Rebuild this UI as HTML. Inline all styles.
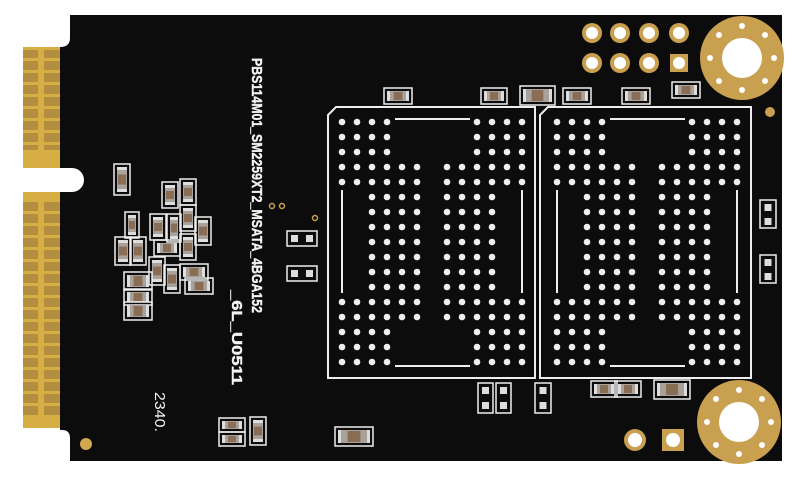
<!DOCTYPE html>
<html><head><meta charset="utf-8"><style>
html,body{margin:0;padding:0;background:#fff;}
svg{display:block}
</style></head><body>
<svg width="800" height="480" viewBox="0 0 800 480" xmlns="http://www.w3.org/2000/svg">
<defs>
<pattern id="fing" x="0" y="47" width="40" height="12" patternUnits="userSpaceOnUse">
<rect width="40" height="12" fill="#d6ae44"/>
<rect x="4" y="2" width="34" height="9" fill="#b48e40"/>
</pattern>
<pattern id="fing2" x="0" y="200" width="40" height="12" patternUnits="userSpaceOnUse">
<rect width="40" height="12" fill="#d6ae44"/>
<rect x="4" y="2" width="34" height="9" fill="#b48e40"/>
</pattern>
</defs>
<path d="M70,15 H782 V461 H70 V438 Q70,430 62,430 H60 V192 H72 A12,12 0 0 0 72,168 H60 V47 Q70,47 70,38 Z" fill="#0c0c0d"/>
<rect x="23" y="47" width="37" height="121" fill="#d6ae44"/>
<rect x="23" y="50" width="37" height="100" fill="url(#fing)"/>
<rect x="23" y="192" width="37" height="236" fill="#d6ae44"/>
<rect x="23" y="200" width="37" height="216" fill="url(#fing2)"/>
<circle cx="86" cy="444" r="6" fill="#d0a850"/>
<circle cx="770" cy="112" r="5" fill="#c9a050"/>

<g fill="#c9a050">
<circle cx="592" cy="33" r="10"/><circle cx="620" cy="33" r="10"/><circle cx="649" cy="33" r="10"/><circle cx="679" cy="33" r="10"/>
<circle cx="592" cy="63" r="10"/><circle cx="620" cy="63" r="10"/><circle cx="649" cy="63" r="10"/>
<rect x="670" y="54" width="18" height="18"/>
<circle cx="635" cy="440" r="11"/><rect x="662" y="429" width="22" height="22"/>
</g>
<g fill="#fff">
<circle cx="592" cy="33" r="6"/><circle cx="620" cy="33" r="6"/><circle cx="649" cy="33" r="6"/><circle cx="679" cy="33" r="6"/>
<circle cx="592" cy="63" r="6"/><circle cx="620" cy="63" r="6"/><circle cx="649" cy="63" r="6"/><circle cx="679" cy="63" r="6"/>
<circle cx="635" cy="440" r="7"/><circle cx="673" cy="440" r="7"/>
</g>

<g>
<circle cx="742" cy="58" r="42" fill="#c9a050"/><circle cx="742" cy="58" r="20" fill="#fff"/>
<circle cx="739" cy="422" r="42" fill="#c9a050"/><circle cx="739" cy="422" r="20" fill="#fff"/>
<g fill="#fff">
<circle cx="742" cy="26" r="3"/><circle cx="742" cy="90" r="3"/><circle cx="710" cy="58" r="3"/><circle cx="774" cy="58" r="3"/>
<circle cx="719" cy="35" r="3"/><circle cx="765" cy="35" r="3"/><circle cx="719" cy="81" r="3"/><circle cx="765" cy="81" r="3"/>
<circle cx="739" cy="390" r="3"/><circle cx="739" cy="454" r="3"/><circle cx="707" cy="422" r="3"/><circle cx="771" cy="422" r="3"/>
<circle cx="716" cy="399" r="3"/><circle cx="762" cy="399" r="3"/><circle cx="716" cy="445" r="3"/><circle cx="762" cy="445" r="3"/>
</g>
</g>

<g fill="none" stroke="#eee" stroke-width="2">
<path d="M336,107 H535 V378 H328 V115 Z"/>
<path d="M548,107 H751 V378 H540 V115 Z"/>
<path d="M395,119 H470 M395,366 H470 M342,190 V293 M522,190 V293"/>
<path d="M610,119 H685 M610,366 H685 M557,190 V293 M737,190 V293"/>
</g>
<g id="bga" fill="#eee"></g>
<g id="comps"></g>

<g fill="#f2f2f2" stroke="#f2f2f2" stroke-width="0.4" font-family="'Liberation Sans',sans-serif" font-weight="bold" font-size="15">
<text transform="translate(252,58) rotate(90)" textLength="255" lengthAdjust="spacingAndGlyphs">PBS114M01_SM2259XT2_MSATA_4BGA152</text>
<text transform="translate(232,290) rotate(90)" textLength="95" lengthAdjust="spacingAndGlyphs">_6L_U0511</text>
<text transform="translate(155,392) rotate(90)" font-weight="normal" stroke-width="0" textLength="40" lengthAdjust="spacingAndGlyphs">2340.</text>
</g>
</svg>
<script>
(function(){
var NS="http://www.w3.org/2000/svg";
var g=document.getElementById('bga');
function dot(x,y){var c=document.createElementNS(NS,'circle');c.setAttribute('cx',x);c.setAttribute('cy',y);c.setAttribute('r',3.3);g.appendChild(c);}
var L=[342,357,372,387,402,417,447,462,477,492,507,522];
var R=[557,572,587,602,617,632,662,677,692,707,722,737];
[L,R].forEach(function(cols){
for(var r=0;r<17;r++){var y=122+15*r;
for(var c=0;c<12;c++){var ok;
if(r<=2||r>=14) ok=(c<=3||c>=8);
else if(r<=4||r==12||r==13) ok=true;
else ok=(c>=2&&c<=9);
if(ok)dot(cols[c],y);}}
});
var cg=document.getElementById('comps');
function rect(x,y,w,h,f,s,sw){var e=document.createElementNS(NS,'rect');e.setAttribute('x',x);e.setAttribute('y',y);e.setAttribute('width',w);e.setAttribute('height',h);e.setAttribute('fill',f);if(s){e.setAttribute('stroke',s);e.setAttribute('stroke-width',sw||1.5);}cg.appendChild(e);}
function cap(x,y,w,h){rect(x-3,y-3,w+6,h+6,'none','#eee',1.5);rect(x,y,w,h,'#a8a29a');
if(w>h){rect(x,y,3,h,'#ddd');rect(x+w-3,y,3,h,'#ddd');rect(x+w*0.3,y+1,w*0.4,h-2,'#8a6d55');}
else{rect(x,y,w,3,'#ddd');rect(x,y+h-3,w,3,'#ddd');rect(x+1,y+h*0.3,w-2,h*0.4,'#8a6d55');}}
function pads(x,y,w,h,n,vert){rect(x,y,w,h,'none','#eee',1.5);
for(var i=0;i<n;i++){if(vert)rect(x+w/2-3.5,y+4+i*(h/n),7,7,'#ddd');else rect(x+4+i*(w/n),y+h/2-3.5,7,7,'#ddd');}}
[[117,167,10,25],[165,185,10,20],[183,182,10,20],[128,215,8,20],[153,217,10,20],[170,217,8,22],[183,208,10,20],[198,220,10,22],[118,240,10,22],[133,240,10,22],[157,243,20,10],[183,237,10,20],[152,260,10,22],[167,268,10,22],[183,267,22,10],[188,281,22,10],[127,275,22,12],[127,292,22,10],[127,305,22,12],
[387,91,22,10],[484,91,20,10],[523,89,29,13],[566,91,22,10],[625,91,22,10],[675,85,22,10],
[594,384,20,10],[618,384,20,10],[657,383,30,13],
[222,421,20,8],[222,435,20,8],[253,420,10,22],[338,430,32,13]].forEach(function(a){cap(a[0],a[1],a[2],a[3]);});
pads(287,231,30,15,2,false);pads(287,266,30,15,2,false);
pads(478,383,15,30,2,true);pads(496,383,15,30,2,true);pads(535,383,16,30,2,true);
pads(760,200,16,28,2,true);pads(760,255,16,28,2,true);
[[272,206],[282,206],[315,218]].forEach(function(p){var c=document.createElementNS(NS,'circle');c.setAttribute('cx',p[0]);c.setAttribute('cy',p[1]);c.setAttribute('r',2.5);c.setAttribute('fill','none');c.setAttribute('stroke','#c9a050');c.setAttribute('stroke-width',1.5);cg.appendChild(c);});
})();
</script>
</body></html>
